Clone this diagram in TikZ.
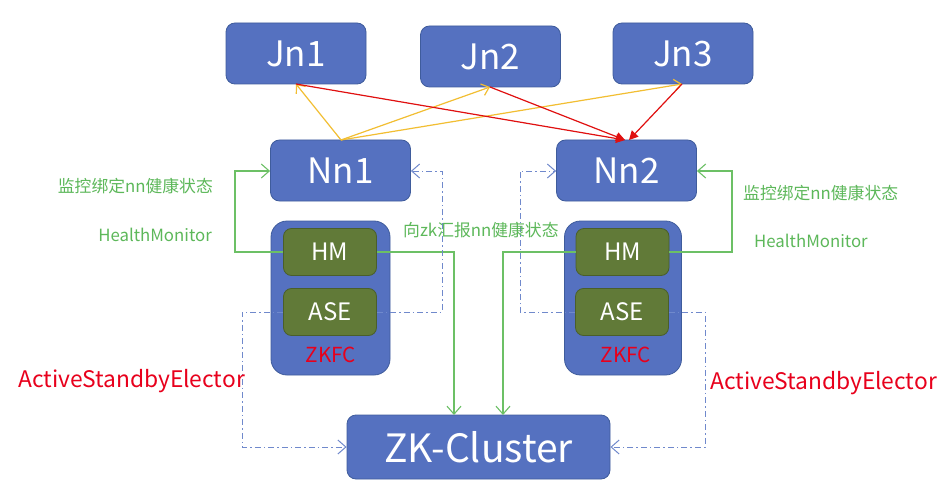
\documentclass[tikz,border=0pt]{standalone}
\usepackage{fontspec}
\setmainfont{Noto Sans CJK SC}
\usetikzlibrary{arrows.meta}
\definecolor{boxblue}{HTML}{5571C0}
\definecolor{boxedge}{HTML}{3F5C9C}
\definecolor{hmgreen}{HTML}{617A38}
\definecolor{hmedge}{HTML}{4A5F2A}
\definecolor{lngreen}{HTML}{6CC065}
\definecolor{txtgreen}{HTML}{5DB85A}
\definecolor{lnred}{HTML}{E01010}
\definecolor{lnyellow}{HTML}{F2BE32}
\definecolor{lnblue}{HTML}{7089CC}
\definecolor{txtred}{HTML}{E8001C}
\begin{document}
\begin{tikzpicture}[x=1pt,y=-1pt,
  bluebox/.style={draw=boxedge,fill=boxblue,line width=0.8pt,rounded corners=9pt,text=white,inner sep=0pt},
  greenbox/.style={draw=hmedge,fill=hmgreen,line width=0.8pt,rounded corners=8pt,text=white,inner sep=0pt,minimum width=93pt,minimum height=47pt,font=\fontsize{24}{27}\selectfont},
  zkfcbox/.style={draw=boxedge,fill=boxblue,line width=0.8pt,rounded corners=16pt,inner sep=0pt},
  topnode/.style={bluebox,minimum width=140pt,minimum height=61pt,font=\fontsize{35}{39}\selectfont},
  yarr/.style={draw=lnyellow,line width=1.2pt,-{Straight Barb[length=7pt,width=12pt]}},
  rarr/.style={draw=lnred,line width=1.2pt,-{Triangle[length=9pt,width=9pt]}},
  garr/.style={draw=lngreen,line width=1.1pt,-{Straight Barb[length=8pt,width=14pt]}},
  barr/.style={draw=lnblue,line width=1pt,dash pattern=on 6pt off 3pt on 1.5pt off 3pt,-{Straight Barb[length=8pt,width=14pt]}},
  glabel/.style={text=txtgreen,font=\fontsize{16.8}{19}\selectfont,inner sep=0pt},
  rlabel/.style={text=txtred,font=\fontsize{22.8}{26}\selectfont,inner sep=0pt}]
\useasboundingbox[fill=white] (0,0) rectangle (950,484);

% top journal nodes
\node[topnode] (jn1) at (296,53.5) {Jn1};
\node[topnode] (jn2) at (490.5,56.5) {Jn2};
\node[topnode] (jn3) at (683,53.5) {Jn3};
% name nodes
\node[topnode] (nn1) at (340.5,170.5) {Nn1};
\node[topnode] (nn2) at (626.5,170.5) {Nn2};

% ZKFC containers
\node[zkfcbox,minimum width=119pt,minimum height=154pt] (zkfc1) at (330.5,298) {};
\node[zkfcbox,minimum width=117pt,minimum height=154pt] (zkfc2) at (623,298) {};
\node[greenbox] (hm1) at (330,252) {HM};
\node[greenbox] (ase1) at (330,312) {ASE};
\node[greenbox] (hm2) at (622.5,252) {HM};
\node[greenbox] (ase2) at (622,312) {ASE};
\node[text=txtred,font=\fontsize{20.7}{24}\selectfont,inner sep=0pt] (zk1t) at (331,355) {ZKFC};
\node[text=txtred,font=\fontsize{20.7}{24}\selectfont,inner sep=0pt] (zk2t) at (626,355) {ZKFC};

% ZK cluster
\node[bluebox,minimum width=263pt,minimum height=64pt,font=\fontsize{39}{43}\selectfont] (zk) at (478.5,447) {ZK-Cluster};

% coordinates
\coordinate (nn1top) at (341,140);
\coordinate (nn2topa) at (625,140);
\coordinate (nn2topb) at (629,140);
\coordinate (jn1b) at (296,84);
\coordinate (jn2b) at (490,87);
\coordinate (jn3b) at (682,84);

% yellow arrows
\draw[yarr] (nn1top) -- (jn1b);
\draw[yarr] (nn1top) -- (jn2b);
\draw[yarr] (nn1top) -- (jn3b);
% red arrows
\draw[rarr] (jn1b) -- (nn2topa);
\draw[rarr] (jn2b) -- (nn2topa);
\draw[rarr] (jn3b) -- (nn2topb);

% green health monitor lines
\draw[garr] (hm1.west) -- (235,252) -- (235,171) -- (nn1.west |- 0,171);
\draw[garr] (hm1.east) -- (454,252) -- (454,415);
\draw[garr] (hm2.west) -- (503,252) -- (503,415);
\draw[garr] (hm2.east) -- (732,252) -- (732,171) -- (nn2.east |- 0,171);

% blue dash-dot elector lines
\draw[barr] (ase1.east) -- (442,312) -- (442,171) -- (nn1.east |- 0,171);
\draw[barr] (ase1.west) -- (242,312) -- (242,447) -- (zk.west);
\draw[barr] (ase2.west) -- (520,312) -- (520,171) -- (nn2.west |- 0,171);
\draw[barr] (ase2.east) -- (705,312) -- (705,447) -- (zk.east);

% labels
\node[glabel,anchor=east] (l1) at (213,186) {监控绑定nn健康状态};
\node[glabel,anchor=east] (l2) at (212,235) {HealthMonitor};
\node[glabel,anchor=west] (l3) at (403,230) {向zk汇报nn健康状态};
\node[glabel,anchor=west] (l4) at (743,193) {监控绑定nn健康状态};
\node[glabel,anchor=west] (l5) at (754,241) {HealthMonitor};
\node[rlabel,anchor=west] (l6) at (18,381) {ActiveStandbyElector};
\node[rlabel,anchor=west] (l7) at (710,383) {ActiveStandbyElector};
\end{tikzpicture}
\end{document}
